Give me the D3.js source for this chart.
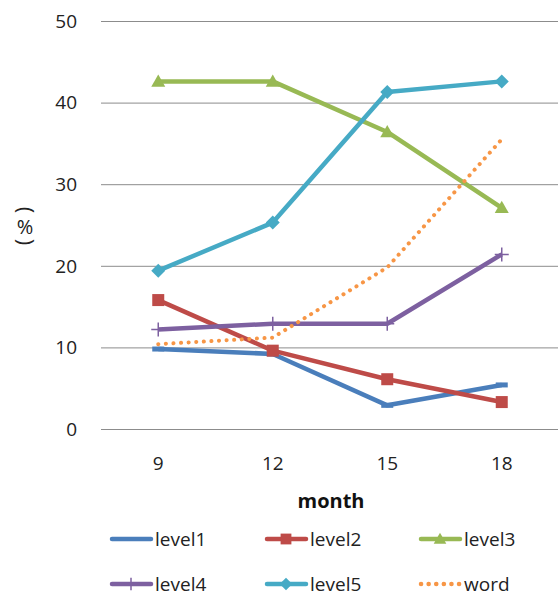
<!DOCTYPE html>
<html><head><meta charset="utf-8">
<script src="https://cdn.jsdelivr.net/npm/d3@7"></script>
<style>body{margin:0;background:#fff}svg{display:block}</style>
</head><body>
<svg id="c" width="558" height="596"></svg>
<script>
const months = ["9","12","15","18"];
const level1 = [9.8, 9.2, 2.9, 5.4];
const level2 = [15.8, 9.6, 6.1, 3.3];
const level3 = [42.6, 42.6, 36.4, 27.1];
const level4 = [12.2, 12.9, 12.9, 21.4];
const level5 = [19.4, 25.3, 41.3, 42.6];
const word = [10.4, 11.2, 19.8, 35.5];
const yTicks = [0, 10, 20, 30, 40, 50];

const series = [
  {name:"level1", values:level1, color:"#4a7ebb", marker:"dash"},
  {name:"level2", values:level2, color:"#be4b48", marker:"square"},
  {name:"level3", values:level3, color:"#98b954", marker:"triangle"},
  {name:"level4", values:level4, color:"#7d60a0", marker:"plus"},
  {name:"level5", values:level5, color:"#46aac5", marker:"diamond"},
  {name:"word", values:word, color:"#f79646", marker:"none", dotted:true}
];

const font = "'Open Sans','Noto Sans CJK KR',sans-serif";
const svg = d3.select("#c");
const m = {left:101, right:558, top:21, bottom:429};
const x = d3.scaleBand().domain(months).range([m.left, m.right+1]);
const y = d3.scaleLinear().domain([0,50]).range([m.bottom, m.top]);

// grid
svg.append("g").selectAll("line").data(yTicks).join("line")
  .attr("x1", m.left).attr("x2", m.right)
  .attr("y1", d=>y(d)+0.5).attr("y2", d=>y(d)+0.5)
  .attr("stroke", "#8c8c8c").attr("stroke-width", 1);

// y tick labels
svg.append("g").selectAll("text").data(yTicks).join("text")
  .attr("x", 77).attr("y", d=>y(d)).attr("dy","0.36em")
  .attr("text-anchor","end").attr("font-family",font).attr("font-size",19)
  .attr("fill","#222").text(d=>d);

// x tick labels
svg.append("g").selectAll("text").data(months).join("text")
  .attr("x", d=>x(d)+x.bandwidth()/2).attr("y", 463).attr("dy","0.36em")
  .attr("text-anchor","middle").attr("font-family",font).attr("font-size",19)
  .attr("fill","#222").text(d=>d);

// axis titles
svg.append("text").attr("x",331).attr("y",501).attr("dy","0.36em")
  .attr("text-anchor","middle").attr("font-family",font).attr("font-size",20)
  .attr("font-weight","bold").attr("fill","#111").text("month");
const yt = svg.append("g").attr("font-family",font).attr("fill","#222");
yt.append("text").attr("transform","translate(25,210) rotate(90)").attr("text-anchor","middle").attr("dy","0.33em").attr("font-size",22).text("(");
yt.append("text").attr("x",25).attr("y",227).attr("text-anchor","middle").attr("dy","0.36em").attr("font-size",20).text("%");
yt.append("text").attr("transform","translate(25,242) rotate(90)").attr("text-anchor","middle").attr("dy","0.33em").attr("font-size",22).text(")");

function drawMarker(g, type, color, cx, cy, scale) {
  scale = scale || 1;
  if (type === "square") {
    const s = 12*scale;
    g.append("rect").attr("x",cx-s/2).attr("y",cy-s/2).attr("width",s).attr("height",s).attr("fill",color);
  } else if (type === "triangle") {
    const s = 7*scale;
    g.append("path").attr("d",`M${cx},${cy-s}L${cx+s},${cy+s*0.75}L${cx-s},${cy+s*0.75}Z`).attr("fill",color);
  } else if (type === "diamond") {
    const s = 7*scale;
    g.append("path").attr("d",`M${cx},${cy-s}L${cx+s},${cy}L${cx},${cy+s}L${cx-s},${cy}Z`).attr("fill",color);
  } else if (type === "plus") {
    const s = 7*scale;
    g.append("path").attr("d",`M${cx-s},${cy}H${cx+s}M${cx},${cy-s}V${cy+s}`).attr("stroke",color).attr("stroke-width",1.5).attr("fill","none");
  } else if (type === "dash") {
    g.append("line").attr("x1",cx-6).attr("x2",cx+6).attr("y1",cy).attr("y2",cy).attr("stroke",color).attr("stroke-width",5);
  }
}

const line = d3.line().x((d,i)=>x(months[i])+x.bandwidth()/2).y(d=>y(d));
const plot = svg.append("g");
series.forEach(s => {
  const g = plot.append("g");
  g.append("path").datum(s.values).attr("d", line).attr("fill","none")
    .attr("stroke", s.color).attr("stroke-width", s.dotted?4:4.5)
    .attr("stroke-linecap", s.dotted?"round":"butt").attr("stroke-linejoin","round")
    .attr("stroke-dasharray", s.dotted?"0.1 7.5":null);
  s.values.forEach((v,i) => drawMarker(g, s.marker, s.color, x(months[i])+x.bandwidth()/2, y(v)));
});

// legend
const legX = [110, 265, 419];
const legY = [539, 584];
const leg = svg.append("g");
series.forEach((s,i) => {
  const lx = legX[i%3], ly = legY[Math.floor(i/3)];
  const g = leg.append("g");
  g.append("line").attr("x1",lx+2).attr("x2",lx+41).attr("y1",ly).attr("y2",ly)
    .attr("stroke",s.color).attr("stroke-width",4.5)
    .attr("stroke-linecap","round")
    .attr("stroke-dasharray", s.dotted?"0.1 7.5":null);
  if (s.marker!=="dash" && s.marker!=="none") drawMarker(g, s.marker, s.color, lx+21, ly, 0.9);
  g.append("text").attr("x",lx+45).attr("y",ly).attr("dy","0.36em")
    .attr("font-family",font).attr("font-size",19).attr("fill","#222").text(s.name);
});
</script>
</body></html>
